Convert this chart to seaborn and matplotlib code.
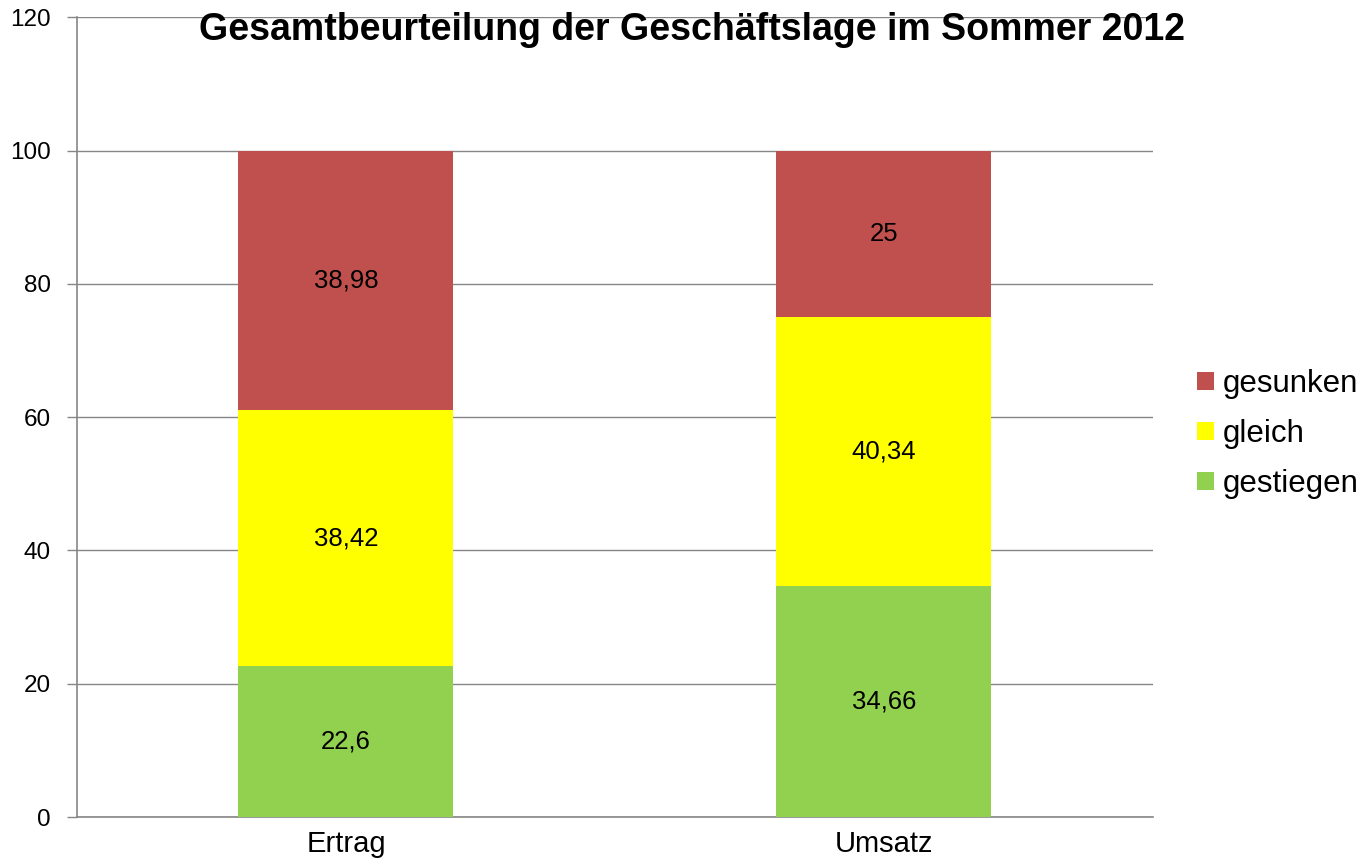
import numpy as np
import pandas as pd
import matplotlib
matplotlib.use('Agg')
import matplotlib.pyplot as plt
import seaborn as sns

categories = ['Ertrag', 'Umsatz']
gestiegen = [22.6, 34.66]
gleich = [38.42, 40.34]
gesunken = [38.98, 25]
series_names = ['gestiegen', 'gleich', 'gesunken']
colors = ['#92D050', '#FFFF00', '#C0504D']

sns.set_style('white')
plt.rcParams['font.family'] = ['Liberation Sans', 'DejaVu Sans']
plt.rcParams['text.color'] = 'black'
plt.rcParams['xtick.color'] = 'black'
plt.rcParams['ytick.color'] = 'black'

fig = plt.figure(figsize=(13.64, 8.61), dpi=100)
ax = fig.add_axes([0.0565, 0.051, 0.7885, 0.929])

values = [gestiegen, gleich, gesunken]
bottom = np.zeros(len(categories))
for name, vals, col in zip(series_names, values, colors):
    df = pd.DataFrame({'Kategorie': categories, 'Wert': vals})
    sns.barplot(data=df, x='Kategorie', y='Wert', color=col, width=0.4,
                saturation=1, linewidth=0, bottom=bottom, ax=ax,
                label=name, zorder=3)
    for i, v in enumerate(vals):
        txt = f'{v:g}'.replace('.', ',')
        ax.text(i, bottom[i] + v / 2, txt, ha='center', va='center',
                fontsize=18.5, color='black', zorder=4)
    bottom = bottom + np.array(vals)

h, l = ax.get_legend_handles_labels()
if ax.get_legend() is not None:
    ax.get_legend().remove()

ax.set_xlim(-0.5, 1.5)
ax.set_ylim(0, 120)
ax.set_yticks(np.arange(0, 121, 20))
ax.yaxis.grid(True, color='#868686', linewidth=1.0, zorder=0)
ax.set_xlabel('')
ax.set_ylabel('')
ax.set_xticks(range(len(categories)))
ax.set_xticklabels(categories, fontfamily=['Liberation Sans Narrow', 'Liberation Sans'],
                   fontsize=21)
ax.set_xticks([-0.5, 0.5, 1.5], minor=True)
ax.tick_params(axis='x', which='major', length=0, pad=9)
ax.tick_params(axis='x', which='minor', length=7, color='#868686', width=1)
ax.tick_params(axis='y', length=7, color='#868686', width=1, labelsize=17.5,
               left=True, pad=12)
for s in ['top', 'right']:
    ax.spines[s].set_visible(False)
for s in ['left', 'bottom']:
    ax.spines[s].set_color('#868686')
    ax.spines[s].set_linewidth(1.2)

leg = fig.legend(h[::-1], l[::-1], loc='center left', bbox_to_anchor=(0.8776, 0.496),
                 frameon=False, fontsize=22.5, handlelength=0.53, handleheight=0.53,
                 handletextpad=0.3, labelspacing=0.64, borderpad=0, borderaxespad=0)

fig.text(0.507, 0.965, 'Gesamtbeurteilung der Geschäftslage im Sommer 2012',
         ha='center', va='center', fontsize=27, fontweight='bold')

fig.savefig('out.png', dpi=100)
